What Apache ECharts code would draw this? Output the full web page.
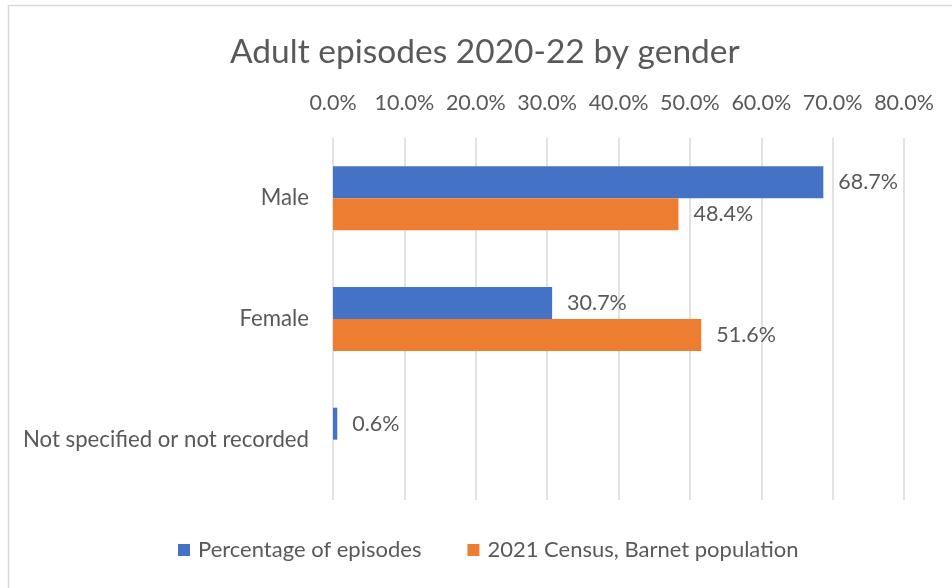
<!DOCTYPE html>
<html>
<head>
<meta charset="utf-8">
<script src="https://cdn.jsdelivr.net/npm/echarts@6/dist/echarts.min.js"></script>
<style>
html,body{margin:0;padding:0;background:#fff;}
#chart{width:952px;height:588px;}
</style>
</head>
<body>
<div id="chart"></div>
<script>
const categories = ['Male', 'Female', 'Not specified or not recorded'];
const episodes = [68.7, 30.7, 0.6];
const census = [48.4, 51.6, null];
const seriesNames = ['Percentage of episodes', '2021 Census, Barnet population'];
const tickMin = 0, tickMax = 80, tickStep = 10;

const FONT = 'Lato';
const TXT = '#595959';
const FS = 21.5;
const FS2 = 22.2;
const chart = echarts.init(document.getElementById('chart'));
const labelCfg = {
  show: true,
  position: 'right',
  distance: 15,
  color: TXT,
  fontFamily: FONT,
  fontSize: FS,
  formatter: p => p.value == null ? '' : p.value.toFixed(1) + '%'
};
chart.setOption({
  animation: false,
  backgroundColor: '#fff',
  graphic: [{
    type: 'rect',
    shape: {x: 8.5, y: 5.5, width: 1000, height: 700},
    style: {fill: 'none', stroke: '#d9d9d9', lineWidth: 1.5},
    silent: true
  }],
  title: {
    text: 'Adult episodes 2020-22 by gender',
    left: 225,
    top: 30,
    textStyle: {fontFamily: FONT, fontSize: 33.5, fontWeight: 'normal', color: TXT}
  },
  legend: {
    bottom: 22,
    left: 173,
    itemWidth: 12,
    itemHeight: 12,
    itemGap: 46,
    icon: 'rect',
    textStyle: {fontFamily: FONT, fontSize: 22, color: TXT, padding: [0, 0, 0, 3]},
    data: seriesNames
  },
  grid: {left: 333, right: 48, top: 138, bottom: 88},
  xAxis: {
    type: 'value',
    position: 'top',
    min: tickMin,
    max: tickMax,
    interval: tickStep,
    axisLine: {show: false},
    axisTick: {show: false},
    axisLabel: {
      color: TXT, fontFamily: FONT, fontSize: FS, margin: 24,
      formatter: v => v.toFixed(1) + '%'
    },
    splitLine: {lineStyle: {color: '#d9d9d9', width: 1.5}}
  },
  yAxis: {
    type: 'category',
    inverse: true,
    data: categories,
    axisLine: {show: false},
    axisTick: {show: false},
    axisLabel: {color: TXT, fontFamily: FONT, fontSize: FS2, margin: 24}
  },
  series: [
    {
      name: seriesNames[0], type: 'bar', data: episodes,
      itemStyle: {color: '#4472c4'},
      barGap: '0%', barCategoryGap: '47%',
      label: labelCfg
    },
    {
      name: seriesNames[1], type: 'bar', data: census,
      itemStyle: {color: '#ed7d31'},
      label: labelCfg
    }
  ]
});
</script>
</body>
</html>
